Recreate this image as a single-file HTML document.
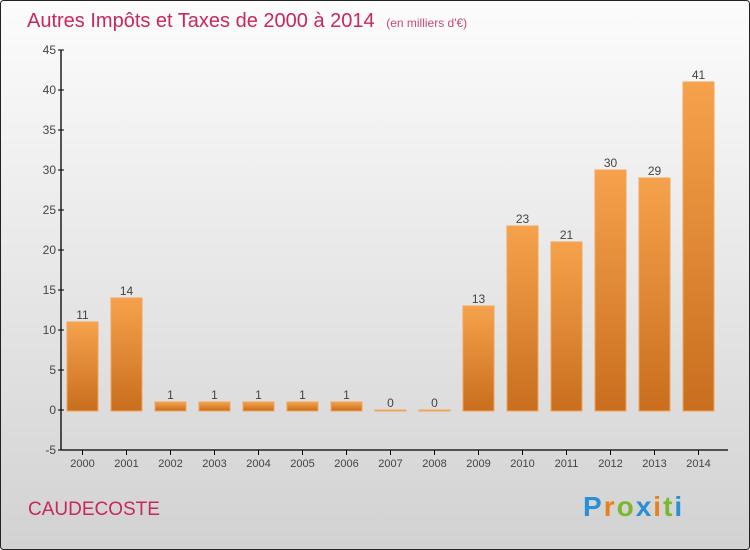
<!DOCTYPE html>
<html><head><meta charset="utf-8"><style>
body{margin:0;width:750px;height:550px;overflow:hidden;font-family:"Liberation Sans",sans-serif}
svg{display:block}
</style></head><body>
<svg width="750" height="550" xmlns="http://www.w3.org/2000/svg">
<defs>
<linearGradient id="bg" x1="0" y1="0" x2="0" y2="1"><stop offset="0" stop-color="#fcfcfc"/><stop offset="1" stop-color="#d2d2d2"/></linearGradient>
<linearGradient id="bar" x1="0" y1="0" x2="0" y2="1"><stop offset="0" stop-color="#f6a24c"/><stop offset="1" stop-color="#c86e1e"/></linearGradient>
</defs>
<rect x="0.5" y="0.5" width="749" height="549" rx="3" fill="url(#bg)" stroke="#222"/>
<text x="27" y="27" font-size="20" fill="#c8285a">Autres Impôts et Taxes de 2000 à 2014 <tspan font-size="12" dx="6" fill="#c84a70">(en milliers d'€)</tspan></text>
<text x="28" y="515" font-size="19" fill="#c8285a">CAUDECOSTE</text>
<g font-size="28" font-weight="bold">
<text x="583" y="516" letter-spacing="2"><tspan fill="#2a8fd6">P</tspan><tspan fill="#e8801e">r</tspan><tspan fill="#7cb82f">o</tspan><tspan fill="#2a8fd6">x</tspan><tspan fill="#e8801e">i</tspan><tspan fill="#7cb82f">t</tspan><tspan fill="#2a8fd6">i</tspan></text>
</g>
<g id="axes"></g>
<g id="bars"></g>
</svg>
<script>
const years=["2000","2001","2002","2003","2004","2005","2006","2007","2008","2009","2010","2011","2012","2013","2014"];
const values=[11,14,1,1,1,1,1,0,0,13,23,21,30,29,41];
const yTicks=[-5,0,5,10,15,20,25,30,35,40,45];
const NS="http://www.w3.org/2000/svg";
const y=v=>410-(v*8);
const x=i=>82.5+i*44;
const axes=document.getElementById('axes'),bars=document.getElementById('bars');
function mk(tag,attrs,parent,text){const e=document.createElementNS(NS,tag);for(const k in attrs)e.setAttribute(k,attrs[k]);if(text!==undefined)e.textContent=text;parent.appendChild(e);return e;}
let l=mk('line',{x1:61,y1:y(45),x2:61,y2:y(-5),stroke:'#000','stroke-width':1.3},axes);


l=mk('line',{x1:61,y1:y(-5),x2:728,y2:y(-5),stroke:'#000','stroke-width':1.3},axes);


yTicks.forEach(t=>{
 mk('line',{x1:58,y1:y(t),x2:64,y2:y(t),stroke:'#000'},axes);
 const tx=mk('text',{x:56,y:y(t)+4,'font-size':12,fill:'#444','text-anchor':'end'},axes,String(t));
 
 
});
years.forEach((yr,i)=>{
 mk('line',{x1:x(i),y1:y(-5),x2:x(i),y2:y(-5)+5,stroke:'#000'},axes);
 const tx=mk('text',{x:x(i),y:467,'font-size':11,fill:'#444','text-anchor':'middle'},axes,yr);
 
 
 const v=values[i];
 const top=y(v),h=Math.max(y(0)+1-top,1);
 const r=mk('rect',{x:x(i)-15.5,y:top,width:31,height:h,fill:'url(#bar)',stroke:'#f3a458','stroke-width':1},bars);
 
 
 const lb=mk('text',{x:x(i),y:top-3,'font-size':12,fill:'#444','text-anchor':'middle'},bars,String(v));
 
 
});
</script>
</body></html>
